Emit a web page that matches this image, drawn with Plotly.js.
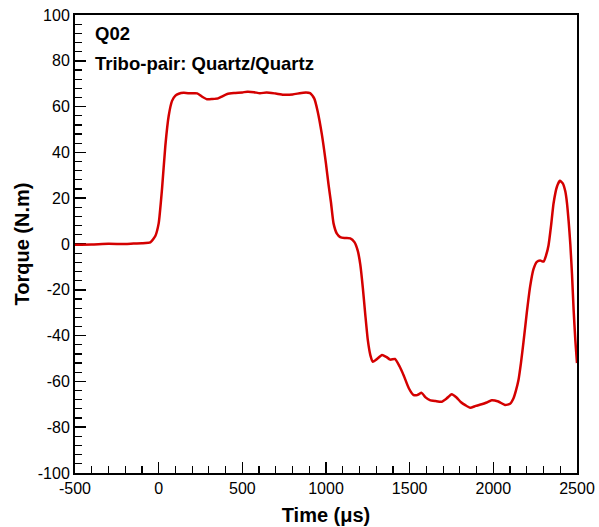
<!DOCTYPE html>
<html>
<head>
<meta charset="utf-8">
<script src="https://cdn.plot.ly/plotly-3.0.1.min.js"></script>
<style>html,body{margin:0;padding:0;background:#fff;}#chart{width:599px;height:527px;}</style>
</head>
<body>
<div id="chart"></div>
<script>
const timeUs = [-500,-400,-300,-200,-150,-100,-50,-20,0,20,40,60,80,100,120,150,190,230,260,290,320,355,380,410,450,500,530,570,605,645,700,745,800,865,905,930,950,975,1000,1015,1030,1045,1065,1085,1110,1145,1170,1190,1205,1220,1235,1250,1265,1280,1300,1335,1360,1385,1412,1440,1465,1495,1522,1545,1572,1595,1621,1655,1691,1720,1751,1780,1805,1835,1862,1895,1930,1960,1990,2030,2070,2100,2120,2135,2150,2165,2180,2200,2220,2240,2260,2280,2300,2315,2330,2345,2360,2380,2398,2415,2430,2440,2450,2460,2470,2480,2490,2500];
const torqueNm = [-0.3,-0.2,0.1,0,0.2,0.3,0.7,3.5,9,24,43,56,62.5,64.8,65.6,66,65.8,65.8,64.3,63.2,63.3,63.6,64.5,65.5,65.9,66.2,66.5,66.3,65.8,66.2,65.7,65.2,65.3,66.1,65.9,63.5,58,48,35,26,18,9,4.5,3,2.6,2.5,0.8,-3,-9,-19,-31,-42,-48.5,-51.4,-50.5,-48.5,-49.3,-50.5,-50.2,-53.5,-57.5,-63,-65.9,-66,-65,-67,-68.2,-68.6,-68.9,-67.5,-65.6,-67,-69,-70.5,-71.5,-70.7,-70,-69.2,-68.2,-68.8,-70.3,-69.8,-67.5,-64,-59.5,-52,-43,-30,-18.5,-11,-7.8,-7.2,-7.7,-5,-0.5,8,17.8,25,27.6,26.5,23,18,10,0,-13,-29,-42,-52];
const xTickVals = [-500,0,500,1000,1500,2000,2500];
const xTickText = ["-500","0","500","1000","1500","2000","2500"];
const yTickVals = [-100,-80,-60,-40,-20,0,20,40,60,80,100];
const yTickText = ["-100","-80","-60","-40","-20","0","20","40","60","80","100"];
const labelSample = "Q02";
const labelPair = "Tribo-pair: Quartz/Quartz";

const font = "Liberation Sans, Arial, Helvetica, sans-serif";
const trace = {
  x: timeUs, y: torqueNm, type: 'scatter', mode: 'lines',
  line: {color: '#d40000', width: 2.5, shape: 'spline', smoothing: 0.5},
  hoverinfo: 'skip'
};
const axisCommon = {
  showline: true, linecolor: '#000', linewidth: 2, mirror: true,
  ticks: 'inside', ticklen: 11, tickwidth: 1.5, tickcolor: '#000',
  showgrid: false, zeroline: false, layer: 'below traces',
  tickfont: {family: font, size: 16, color: '#000'}
};
const layout = {
  width: 599, height: 527,
  margin: {l: 75, r: 22, t: 15, b: 54},
  paper_bgcolor: '#fff', plot_bgcolor: '#fff',
  showlegend: false,
  xaxis: Object.assign({}, axisCommon, {
    range: [-500, 2500], tickvals: xTickVals, ticktext: xTickText,
    minor: {dtick: 100, ticks: 'inside', ticklen: 7, tickwidth: 1.2, tickcolor: '#000'},
    title: {text: 'Time (μs)', font: {family: font, size: 20, color: '#000', weight: 'bold'}, standoff: 12}
  }),
  yaxis: Object.assign({}, axisCommon, {
    range: [-100, 100], tickvals: yTickVals, ticktext: yTickText,
    minor: {dtick: 4, ticks: 'inside', ticklen: 7, tickwidth: 1.2, tickcolor: '#000'},
    title: {text: 'Torque (N.m)', font: {family: font, size: 20, color: '#000', weight: 'bold'}, standoff: 3}
  }),
  annotations: [
    {text: '<b>' + labelSample + '</b>', xref: 'paper', yref: 'paper', x: 0.036, y: 0.959, xanchor: 'left', yanchor: 'middle', showarrow: false, font: {family: font, size: 18.5, color: '#000'}},
    {text: '<b>' + labelPair + '</b>', xref: 'paper', yref: 'paper', x: 0.036, y: 0.8934, xanchor: 'left', yanchor: 'middle', showarrow: false, font: {family: font, size: 18.5, color: '#000'}}
  ]
};
Plotly.newPlot('chart', [trace], layout, {staticPlot: true, displayModeBar: false});
</script>
</body>
</html>
